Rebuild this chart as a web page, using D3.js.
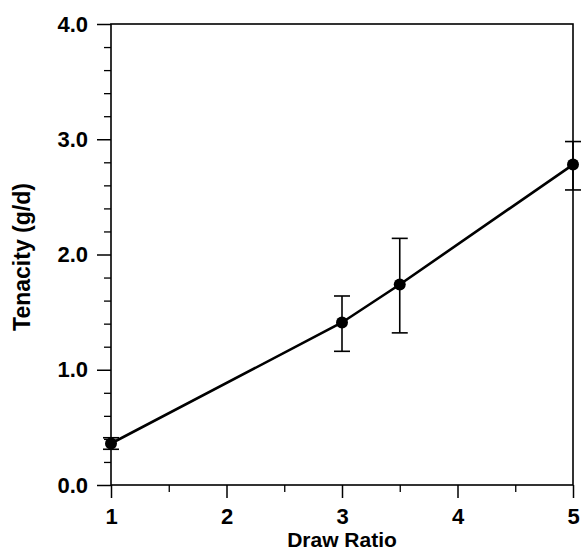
<!DOCTYPE html>
<html>
<head>
<meta charset="utf-8">
<script src="https://cdn.jsdelivr.net/npm/d3@7"></script>
<style>
  html, body { margin: 0; padding: 0; background: #fff; }
  svg { display: block; }
  text { font-family: "Liberation Sans", Arial, sans-serif; font-weight: bold; fill: #000; }
</style>
</head>
<body>
<svg id="chart" width="582" height="552"></svg>
<script>
// Data
const drawRatio = [1, 3, 3.5, 5];
const tenacity  = [0.36, 1.41, 1.74, 2.78];
const errLow    = [0.31, 1.16, 1.32, 2.56];
const errHigh   = [0.41, 1.64, 2.14, 2.98];
const xTicks = [1, 2, 3, 4, 5];
const xMinorTicks = [1.5, 2.5, 3.5, 4.5];
const yTicks = [0, 1, 2, 3, 4];
const yTickLabels = ["0.0", "1.0", "2.0", "3.0", "4.0"];
const yMinorTicks = [0.2, 0.4, 0.6, 0.8, 1.2, 1.4, 1.6, 1.8, 2.2, 2.4, 2.6, 2.8, 3.2, 3.4, 3.6, 3.8];
const xLabel = "Draw Ratio";
const yLabel = "Tenacity (g/d)";

const svg = d3.select("#chart");
const mLeft = 111, mRight = 573, mTop = 24, mBottom = 485;
const x = d3.scaleLinear().domain([1, 5]).range([mLeft, mRight]);
const y = d3.scaleLinear().domain([0, 4]).range([mBottom, mTop]);
const FONT = "'Liberation Sans', Arial, sans-serif";

// Frame
svg.append("rect")
  .attr("x", mLeft).attr("y", mTop)
  .attr("width", mRight - mLeft).attr("height", mBottom - mTop)
  .attr("fill", "none").attr("stroke", "#000").attr("stroke-width", 1.6);

// Y axis
const yAxis = d3.axisLeft(y).tickValues(yTicks).tickSize(14).tickPadding(9)
  .tickFormat((d, i) => yTickLabels[i]);
const gy = svg.append("g").attr("transform", `translate(${mLeft},0)`).call(yAxis);
gy.select(".domain").remove();
gy.selectAll("line").attr("stroke", "#000").attr("stroke-width", 1.5);
gy.selectAll("text").style("font-size", "22px").style("font-family", FONT).style("font-weight", "bold");
const gym = svg.append("g").attr("transform", `translate(${mLeft},0)`)
  .call(d3.axisLeft(y).tickValues(yMinorTicks).tickSize(7).tickFormat(""));
gym.select(".domain").remove();
gym.selectAll("line").attr("stroke", "#000").attr("stroke-width", 1.3);

// X axis
const xAxis = d3.axisBottom(x).tickValues(xTicks).tickSize(13).tickPadding(10)
  .tickFormat(d3.format("d"));
const gx = svg.append("g").attr("transform", `translate(0,${mBottom})`).call(xAxis);
gx.select(".domain").remove();
gx.selectAll("line").attr("stroke", "#000").attr("stroke-width", 1.5);
gx.selectAll("text").style("font-size", "22px").style("font-family", FONT).style("font-weight", "bold");
const gxm = svg.append("g").attr("transform", `translate(0,${mBottom})`)
  .call(d3.axisBottom(x).tickValues(xMinorTicks).tickSize(7).tickFormat(""));
gxm.select(".domain").remove();
gxm.selectAll("line").attr("stroke", "#000").attr("stroke-width", 1.3);

// Axis labels
svg.append("text")
  .attr("x", x(3)).attr("y", 547)
  .attr("text-anchor", "middle")
  .style("font-size", "21px")
  .text(xLabel);
svg.append("text")
  .attr("transform", `translate(30,257) rotate(-90)`)
  .attr("text-anchor", "middle")
  .style("font-size", "23px")
  .text(yLabel);

// Line
const pts = drawRatio.map((d, i) => ({ x: d, y: tenacity[i], lo: errLow[i], hi: errHigh[i] }));
svg.append("path")
  .datum(pts)
  .attr("fill", "none").attr("stroke", "#000").attr("stroke-width", 2.6)
  .attr("d", d3.line().x(d => x(d.x)).y(d => y(d.y)));

// Error bars
const eb = svg.append("g").attr("stroke", "#000").attr("stroke-width", 1.6);
eb.selectAll(".v").data(pts).join("line")
  .attr("x1", d => x(d.x)).attr("x2", d => x(d.x))
  .attr("y1", d => y(d.lo)).attr("y2", d => y(d.hi));
eb.selectAll(".capH").data(pts).join("line")
  .attr("x1", d => x(d.x) - 8).attr("x2", d => x(d.x) + 8)
  .attr("y1", d => y(d.hi)).attr("y2", d => y(d.hi));
eb.selectAll(".capL").data(pts).join("line")
  .attr("x1", d => x(d.x) - 8).attr("x2", d => x(d.x) + 8)
  .attr("y1", d => y(d.lo)).attr("y2", d => y(d.lo));

// Points
svg.append("g").selectAll("circle").data(pts).join("circle")
  .attr("cx", d => x(d.x)).attr("cy", d => y(d.y)).attr("r", 6)
  .attr("fill", "#000");
</script>
</body>
</html>
